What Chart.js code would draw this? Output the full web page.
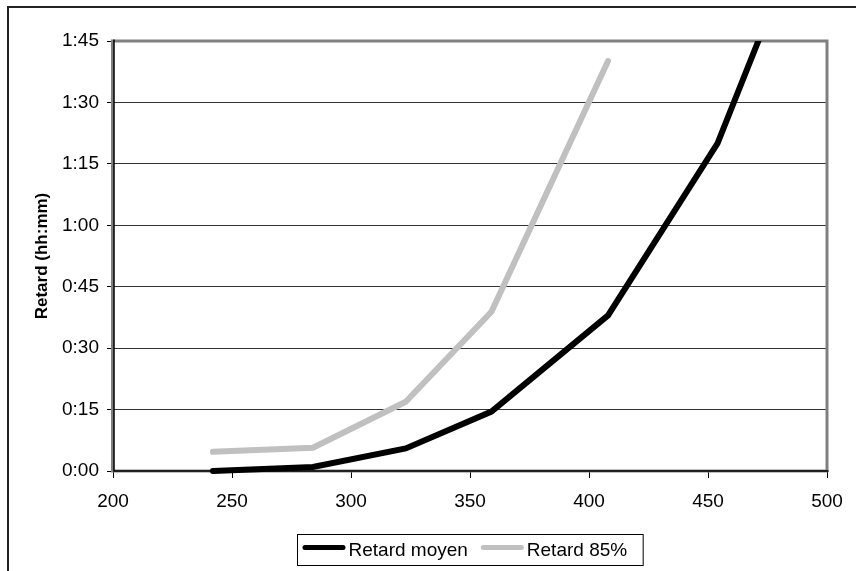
<!DOCTYPE html>
<html><head><meta charset="utf-8">
<script src="https://cdn.jsdelivr.net/npm/chart.js@4/dist/chart.umd.min.js"></script>
<style>html,body{margin:0;padding:0;background:#fff;overflow:hidden}
#wrap{position:relative;width:856px;height:571px}
canvas{display:block}</style></head>
<body><div id="wrap"><canvas id="c" width="856" height="571"></canvas></div>
<script>
// Data (x = trafic, y = retard in minutes)
const traficMoyen = [242, 284, 323, 359, 408, 454, 478];
const retardMoyen = [0, 1, 5.5, 14.5, 38, 80, 115];
const trafic85 = [242, 284, 323, 359, 408];
const retard85 = [4.7, 5.7, 16.9, 38.9, 100.1];
const seriesNames = ['Retard moyen', 'Retard 85%'];
const seriesColors = ['#000000', '#c0c0c0'];
const xTickValues = [200, 250, 300, 350, 400, 450, 500];
const yTickLabels = ['0:00', '0:15', '0:30', '0:45', '1:00', '1:15', '1:30', '1:45'];
const yTitle = 'Retard (hh:mm)';

const FONT = "'Liberation Sans', Arial, sans-serif";

const framePlugin = {
  id: 'frame',
  beforeDatasetsDraw(chart) {
    const {ctx, chartArea: a} = chart;
    ctx.save();
    ctx.strokeStyle = '#808080';
    ctx.lineWidth = 3;
    ctx.strokeRect(a.left - 0.5, a.top, a.right - a.left + 0.5, a.bottom - a.top);
    ctx.strokeStyle = '#000';
    ctx.lineWidth = 1.5;
    ctx.beginPath();
    ctx.moveTo(a.left + 1, a.top - 1.5);
    ctx.lineTo(a.left + 1, a.bottom);
    ctx.lineTo(a.right + 1.5, a.bottom);
    ctx.stroke();
    ctx.restore();
  },
  afterDraw(chart) {
    const {ctx, chartArea: a} = chart;
    ctx.save();
    // outer frame
    ctx.strokeStyle = '#222';
    ctx.lineWidth = 2;
    ctx.strokeRect(8, 7, 1000, 700);
    // legend
    ctx.font = '19px ' + FONT;
    const sample = 43, gapS = 3, gapItem = 13, padL = 5, padR = 16;
    const items = chart.data.datasets.map(d => ({label: d.label, color: d.borderColor, w: ctx.measureText(d.label).width}));
    let total = padL + padR;
    items.forEach((it, i) => { total += sample + gapS + it.w + (i < items.length - 1 ? gapItem : 0); });
    const cx = (a.left + a.right) / 2;
    const bx = Math.round(cx - total / 2) + 0.5, by = 534.5, bh = 31;
    ctx.strokeStyle = '#000';
    ctx.lineWidth = 1;
    ctx.strokeRect(bx, by, total, bh);
    let x = bx + padL;
    const ly = by + bh / 2 + 0.5;
    items.forEach((it) => {
      ctx.strokeStyle = it.color;
      ctx.lineWidth = 5;
      ctx.lineCap = 'round';
      ctx.beginPath();
      ctx.moveTo(x + 2.5, ly - 3);
      ctx.lineTo(x + sample - 2.5, ly - 3);
      ctx.stroke();
      x += sample + gapS;
      ctx.fillStyle = '#000';
      ctx.textBaseline = 'middle';
      ctx.textAlign = 'left';
      ctx.fillText(it.label, x, ly);
      x += it.w + gapItem;
    });
    ctx.restore();
  }
};

const lineClip = {left: 6, top: 0, right: 0, bottom: 6};

new Chart(document.getElementById('c'), {
  type: 'line',
  data: {
    datasets: [
      {
        label: seriesNames[0],
        data: traficMoyen.map((x, i) => ({x: x, y: retardMoyen[i]})),
        borderColor: seriesColors[0], backgroundColor: seriesColors[0],
        borderWidth: 6, pointRadius: 0, tension: 0, fill: false,
        borderCapStyle: 'round', borderJoinStyle: 'miter', clip: lineClip
      },
      {
        label: seriesNames[1],
        data: trafic85.map((x, i) => ({x: x, y: retard85[i]})),
        borderColor: seriesColors[1], backgroundColor: seriesColors[1],
        borderWidth: 6, pointRadius: 0, tension: 0, fill: false,
        borderCapStyle: 'round', borderJoinStyle: 'miter', clip: lineClip
      }
    ]
  },
  options: {
    responsive: false,
    animation: false,
    events: [],
    layout: {padding: {left: 0, right: 29, top: 41, bottom: 0}},
    plugins: {legend: {display: false}, tooltip: {enabled: false}},
    scales: {
      x: {
        type: 'linear', min: xTickValues[0], max: xTickValues[xTickValues.length - 1],
        afterBuildTicks: s => { s.ticks = xTickValues.map(v => ({value: v})); },
        afterFit: s => { s.height = 100; },
        border: {display: false},
        grid: {display: true, drawOnChartArea: false, drawTicks: true, tickLength: 7, tickColor: '#000', lineWidth: 1},
        ticks: {color: '#000', font: {family: FONT, size: 19}, padding: 12, maxRotation: 0, autoSkip: false}
      },
      y: {
        type: 'linear', min: 0, max: 105,
        afterBuildTicks: s => { s.ticks = yTickLabels.map((t, i) => ({value: i * 15})); },
        afterFit: s => { s.width = 113; },
        border: {display: false},
        grid: {color: '#333', lineWidth: 1, drawTicks: true, tickLength: 6, tickColor: '#000'},
        ticks: {color: '#000', font: {family: FONT, size: 19}, padding: 8,
          callback: (v) => yTickLabels[Math.round(v / 15)]},
        title: {display: true, text: yTitle, color: '#000',
          font: {family: FONT, size: 17, weight: 'bold'}, padding: {top: 32, bottom: 0}}
      }
    }
  },
  plugins: [framePlugin]
});
</script></body></html>
